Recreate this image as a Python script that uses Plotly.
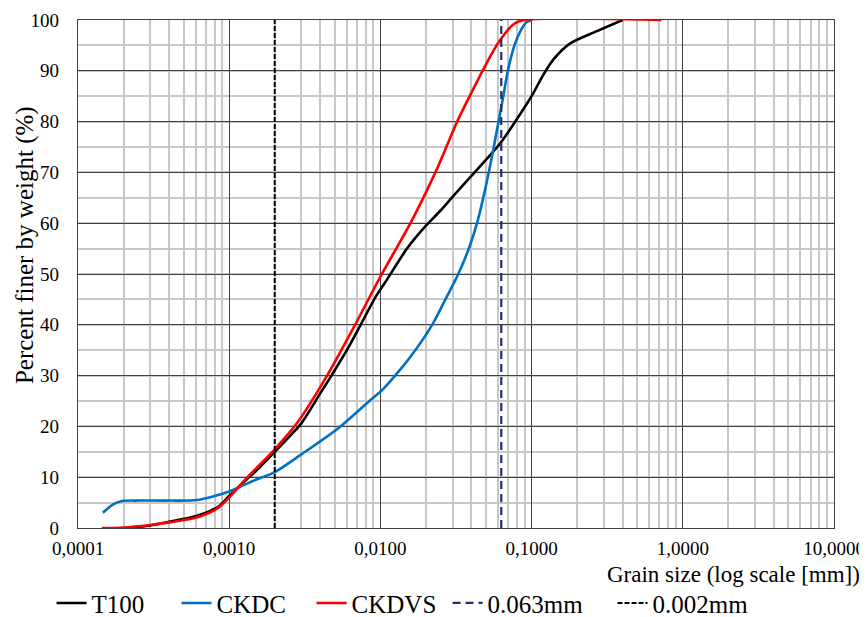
import plotly.graph_objects as go

# ---- data ----
t100_x = [0.00021, 0.0003, 0.0004, 0.00058, 0.0007, 0.00085, 0.001, 0.0013, 0.0016, 0.002,
          0.0025, 0.003, 0.004, 0.0047, 0.006, 0.0074, 0.0093, 0.011, 0.015, 0.02, 0.025,
          0.03, 0.04, 0.05, 0.063, 0.08, 0.1, 0.12, 0.14, 0.18, 0.27, 0.40]
t100_y = [0, 0.5, 1.2, 2.2, 3.0, 4.2, 6.3, 9.5, 12.0, 15.0,
          18.0, 20.6, 26.5, 29.8, 35.0, 40.0, 45.5, 48.8, 55.0, 59.5, 62.5,
          65.2, 69.3, 72.5, 76.0, 80.5, 85.0, 89.3, 92.3, 95.4, 97.8, 100]

ckdc_x = [0.000146, 0.00017, 0.000195, 0.00025, 0.0004, 0.00061, 0.0008, 0.001, 0.00118, 0.0015,
          0.002, 0.003, 0.0054, 0.0086, 0.0103, 0.0126, 0.0158, 0.022, 0.0269, 0.0325, 0.039,
          0.044, 0.05, 0.055, 0.06, 0.065, 0.07, 0.077, 0.085, 0.092, 0.1]
ckdc_y = [3.0, 4.6, 5.3, 5.4, 5.4, 5.5, 6.3, 7.2, 8.1, 9.5,
          11.0, 14.5, 19.9, 25.2, 27.2, 30.1, 33.7, 40.0, 45.0, 49.8, 55.5,
          60.5, 67.5, 73.5, 79.5, 85.0, 90.3, 95.0, 98.0, 99.5, 100]

ckdvs_x = [0.000144, 0.0002, 0.0003, 0.0004, 0.00058, 0.0007, 0.00085, 0.001, 0.0013, 0.0016,
           0.002, 0.0028, 0.0044, 0.0068, 0.01, 0.0158, 0.0231, 0.0322, 0.0394, 0.0474,
           0.0608, 0.0764, 0.089, 0.72]
ckdvs_y = [0, 0.1, 0.6, 1.1, 1.9, 2.7, 4.0, 6.0, 9.8, 12.5,
           15.5, 20.6, 29.8, 40.0, 49.5, 60.0, 70.0, 80.0, 85.3, 90.0,
           95.7, 99.2, 100, 100]

limit_sand = 0.063
limit_clay = 0.002
limit_y = [0, 100]

x_tickvals = [0.0001, 0.001, 0.01, 0.1, 1, 10]
x_ticktext = ["0,0001", "0,0010", "0,0100", "0,1000", "1,0000", "10,0000"]
y_tickvals = [0, 10, 20, 30, 40, 50, 60, 70, 80, 90, 100]

FONT = "Liberation Serif"

fig = go.Figure()
fig.add_trace(go.Scatter(x=t100_x, y=t100_y, name="T100", mode="lines", legendwidth=80,
                         line=dict(color="#000000", width=2.6, shape="spline", smoothing=0.8)))
fig.add_trace(go.Scatter(x=ckdc_x, y=ckdc_y, name="CKDC", mode="lines", legendwidth=90,
                         line=dict(color="#0070C0", width=2.6, shape="spline", smoothing=0.8)))
fig.add_trace(go.Scatter(x=ckdvs_x, y=ckdvs_y, name="CKDVS", mode="lines", legendwidth=91,
                         line=dict(color="#FF0000", width=2.6, shape="spline", smoothing=0.8)))
fig.add_trace(go.Scatter(x=[limit_sand, limit_sand], y=limit_y, name="0.063mm", mode="lines",
                         legendwidth=120,
                         line=dict(color="#1F3070", width=2.2, dash="8px,5px")))
fig.add_trace(go.Scatter(x=[limit_clay, limit_clay], y=limit_y, name="0.002mm", mode="lines",
                         line=dict(color="#000000", width=2, dash="5px,2px")))

minor_vals = [m * d for d in [0.0001, 0.001, 0.01, 0.1, 1] for m in range(2, 10)]

# page body has an 8px margin, so the figure is 8px smaller and margins shifted
fig.update_layout(
    width=859, height=609,
    margin=dict(l=70, r=33, t=12, b=89, autoexpand=False),
    paper_bgcolor="white", plot_bgcolor="white",
    font=dict(family=FONT, color="#000000"),
    showlegend=True,
    legend=dict(orientation="h", x=-0.035, y=-0.148, xanchor="left", yanchor="middle",
                font=dict(size=25, family=FONT), itemwidth=30, tracegroupgap=0,
                bgcolor="rgba(0,0,0,0)"),
    xaxis=dict(type="log", range=[-4, 1], tickvals=x_tickvals, ticktext=x_ticktext,
               showgrid=True, gridcolor="#404040", gridwidth=1.2,
               minor=dict(tickvals=minor_vals, showgrid=True, gridcolor="#c8c8c8", gridwidth=1.5),
               showline=True, linecolor="#404040", linewidth=1.2, mirror=True,
               ticks="", tickfont=dict(size=19, family=FONT), ticklabelstandoff=3,
               zeroline=False, automargin=False),
    yaxis=dict(range=[0, 100], tickvals=y_tickvals,
               showgrid=True, gridcolor="#404040", gridwidth=1.2,
               minor=dict(dtick=5, showgrid=True, gridcolor="#c8c8c8", gridwidth=1.5),
               showline=True, linecolor="#404040", linewidth=1.2, mirror=True,
               ticks="", tickfont=dict(size=19, family=FONT), ticklabelstandoff=14,
               zeroline=False, automargin=False),
)

fig.add_annotation(text="Percent finer by weight (%)", xref="paper", yref="paper",
                   x=-0.0701, y=0.557, xanchor="center", yanchor="middle", textangle=-90,
                   showarrow=False, font=dict(size=25, family=FONT, color="#000000"))

fig.add_annotation(text="Grain size (log scale [mm])", xref="paper", yref="paper",
                   x=1.037, y=-0.0925, xanchor="right", yanchor="middle", showarrow=False,
                   font=dict(size=23, family=FONT, color="#000000"))

fig.write_html("out.html")
